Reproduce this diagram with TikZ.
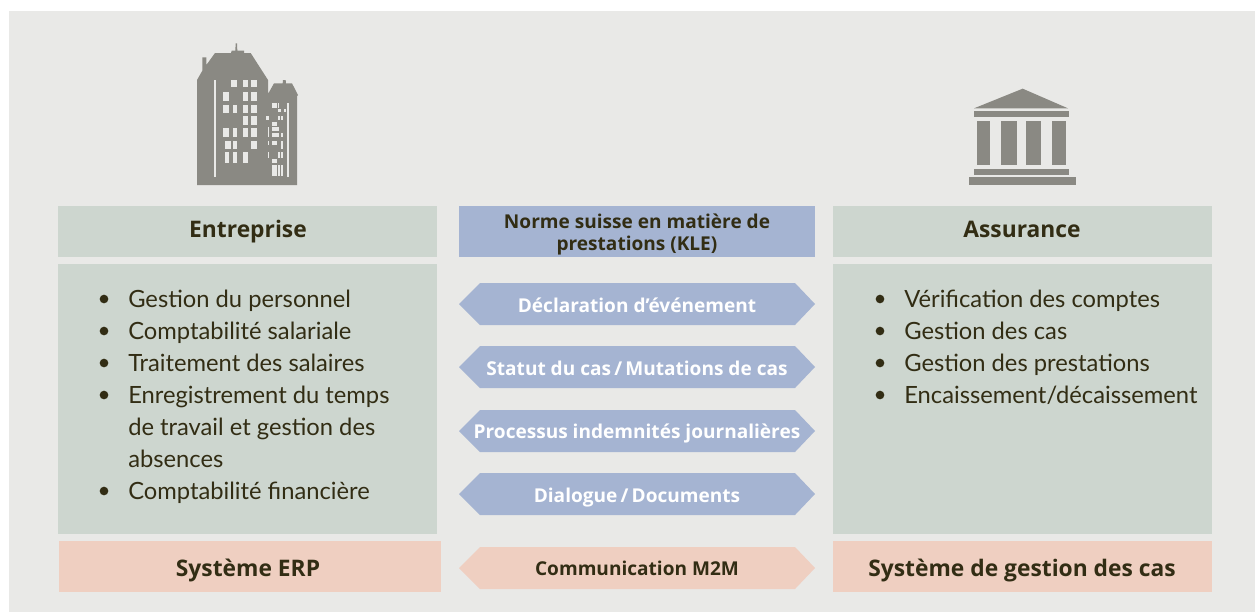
\documentclass[tikz,border=0pt]{standalone}
\usepackage{fontspec}
\setmainfont{Lato}
\newfontfamily\boldface{Open Sans}[Scale=1.0]
\definecolor{panelgrey}{HTML}{E9E9E7}
\definecolor{iconfill}{HTML}{8A8983}
\definecolor{inktext}{HTML}{322D14}
\definecolor{sagebox}{HTML}{CDD6CF}
\definecolor{bluebox}{HTML}{A5B4D2}
\definecolor{pinkbox}{HTML}{EFCFC1}
\tikzset{
	headtext/.style={text=inktext, anchor=base, inner sep=0pt, font=\boldface\bfseries\fontsize{17.1}{19}\selectfont},
	itemtext/.style={text=inktext, anchor=base west, inner sep=0pt, font=\fontsize{17.8}{20}\selectfont},
	dottext/.style={circle, fill=inktext, inner sep=0pt, minimum size=6.5pt},
	pilltext/.style={anchor=base, inner sep=0pt, font=\boldface\bfseries\fontsize{14.3}{16}\selectfont}
}
\begin{document}
\begin{tikzpicture}[x=0.75pt, y=-0.75pt]
	\useasboundingbox (0,0) rectangle (1255,612);
	%panel
	\fill[white] (0,0) rectangle (1255,612);
	\fill[panelgrey] (9,11) rectangle (1255,612);
	
	%building
	\begin{scope}[shift={(180,30)}, x=0.25pt, y=-0.25pt]
		\fill[iconfill] (51,465) -- (51,150) -- (67,122) -- (67,82) -- (79,82) -- (79,105) -- (105,69) -- (153,69) -- (155,62) -- (166,62) -- (167,40) -- (171,40) -- (172,62) -- (192,62) -- (192,69) -- (212,69) -- (264,150) -- (264,192) -- (282,160) -- (308,160) -- (309,150) -- (317,150) -- (318,160) -- (336,160) -- (354,195) -- (351,198) -- (351,465) -- cycle;
		\foreach \a/\b/\c/\d in {154/150/172/170, 189/150/205/170, 213/150/231/170,
			130/187/148/212, 189/187/205/212, 213/187/231/212,
			130/224/148/250, 158/224/172/250, 189/224/205/250, 213/224/231/250,
			189/258/205/284, 213/258/231/284,
			130/295/148/321, 158/295/172/321, 189/295/205/321, 213/295/231/321,
			134/333/152/358, 158/333/172/358, 213/333/231/358,
			134/366/148/400, 158/366/172/400, 189/366/205/400,
			103/150/108/440, 322/220/327/440,
			276/220/290/234, 293/220/297/234, 293/237/303/246, 312/237/318/246,
			258/258/268/270, 294/258/300/270, 304/258/309/270, 276/275/290/288,
			263/291/268/320, 276/291/298/304, 276/308/298/320, 304/308/309/320,
			263/333/268/346, 276/333/290/346, 304/333/309/357,
			263/366/268/384, 294/366/299/384, 304/366/309/384,
			276/388/290/400, 276/404/290/438, 294/404/299/438, 304/404/309/438}
		\fill[panelgrey] (\a,\b) rectangle (\c,\d);
	\end{scope}
	
	%temple
	\begin{scope}[shift={(950,70)}, x=0.25pt, y=-0.25pt]
		\fill[iconfill] (72,115) -- (218,56) -- (354,115) -- cycle;
		\fill[iconfill] (72,123) rectangle (358,141);
		\foreach \a/\c in {82/120, 154/202, 228/273, 307/348}
		\fill[iconfill] (\a,154) rectangle (\c,284);
		\fill[iconfill] (72,297) rectangle (358,314);
		\fill[iconfill] (58,321) rectangle (378,345);
	\end{scope}
	
	%left column
	\fill[sagebox] (58,206) rectangle (437,257);
	\fill[sagebox] (58,264) rectangle (437,534);
	\fill[pinkbox] (59,541) rectangle (441,592);
	\node[headtext] (entreprise) at (248,237) {Entreprise};
	\node[headtext] (erp) at (248,576) {Système ERP};
	
	%right column
	\fill[sagebox] (833,206) rectangle (1212,257);
	\fill[sagebox] (833,264) rectangle (1212,534);
	\fill[pinkbox] (833,541) rectangle (1212,592);
	\node[headtext] (assurance) at (1022,237) {Assurance};
	\node[headtext] (gestion) at (1022,576) {Système de gestion des cas};
	
	%list left
	\foreach \y/\txt in {307/Gestion du personnel, 339/Comptabilité salariale, 371/Traitement des salaires, 403/Enregistrement du temps, 435/de travail et gestion des, 467/absences, 499/Comptabilité financière}
	\node[itemtext] (left\y) at (128,\y) {\txt};
	\foreach \y in {299,331,363,395,491}
	\node[dottext] (dotl\y) at (104,\y) {};
	
	%list right
	\foreach \y/\txt in {307/Vérification des comptes, 339/Gestion des cas, 371/Gestion des prestations, 403/{Encaissement/décaissement}}
	\node[itemtext] (right\y) at (904,\y) {\txt};
	\foreach \y in {299,331,363,395}
	\node[dottext] (dotr\y) at (880,\y) {};
	
	%middle column
	\fill[bluebox] (459,206) rectangle (815,257);
	\node[pilltext, text=inktext] (norme) at (637,228) {Norme suisse en matière de};
	\node[pilltext, text=inktext] (kle) at (637,250) {prestations (KLE)};
	
	%arrows
	\foreach \y/\b/\nm/\txt in {283/312/declaration/{Déclaration d’événement}, 346/375/statut/{Statut du cas\,/\,Mutations de cas}, 410/438/processus/{Processus indemnités journalières}, 473/502/dialogue/{Dialogue\,/\,Documents}}
	{
		\fill[bluebox] (459,\y+21) -- (480,\y) -- (795,\y) -- (815,\y+21) -- (795,\y+42) -- (480,\y+42) -- cycle;
		\node[pilltext, text=white] (\nm) at (637,\b) {\txt};
	}
	\fill[pinkbox] (459,568) -- (480,547) -- (795,547) -- (815,568) -- (795,589) -- (480,589) -- cycle;
	\node[pilltext, text=inktext] (m2m) at (637,575) {Communication M2M};
\end{tikzpicture}
\end{document}
